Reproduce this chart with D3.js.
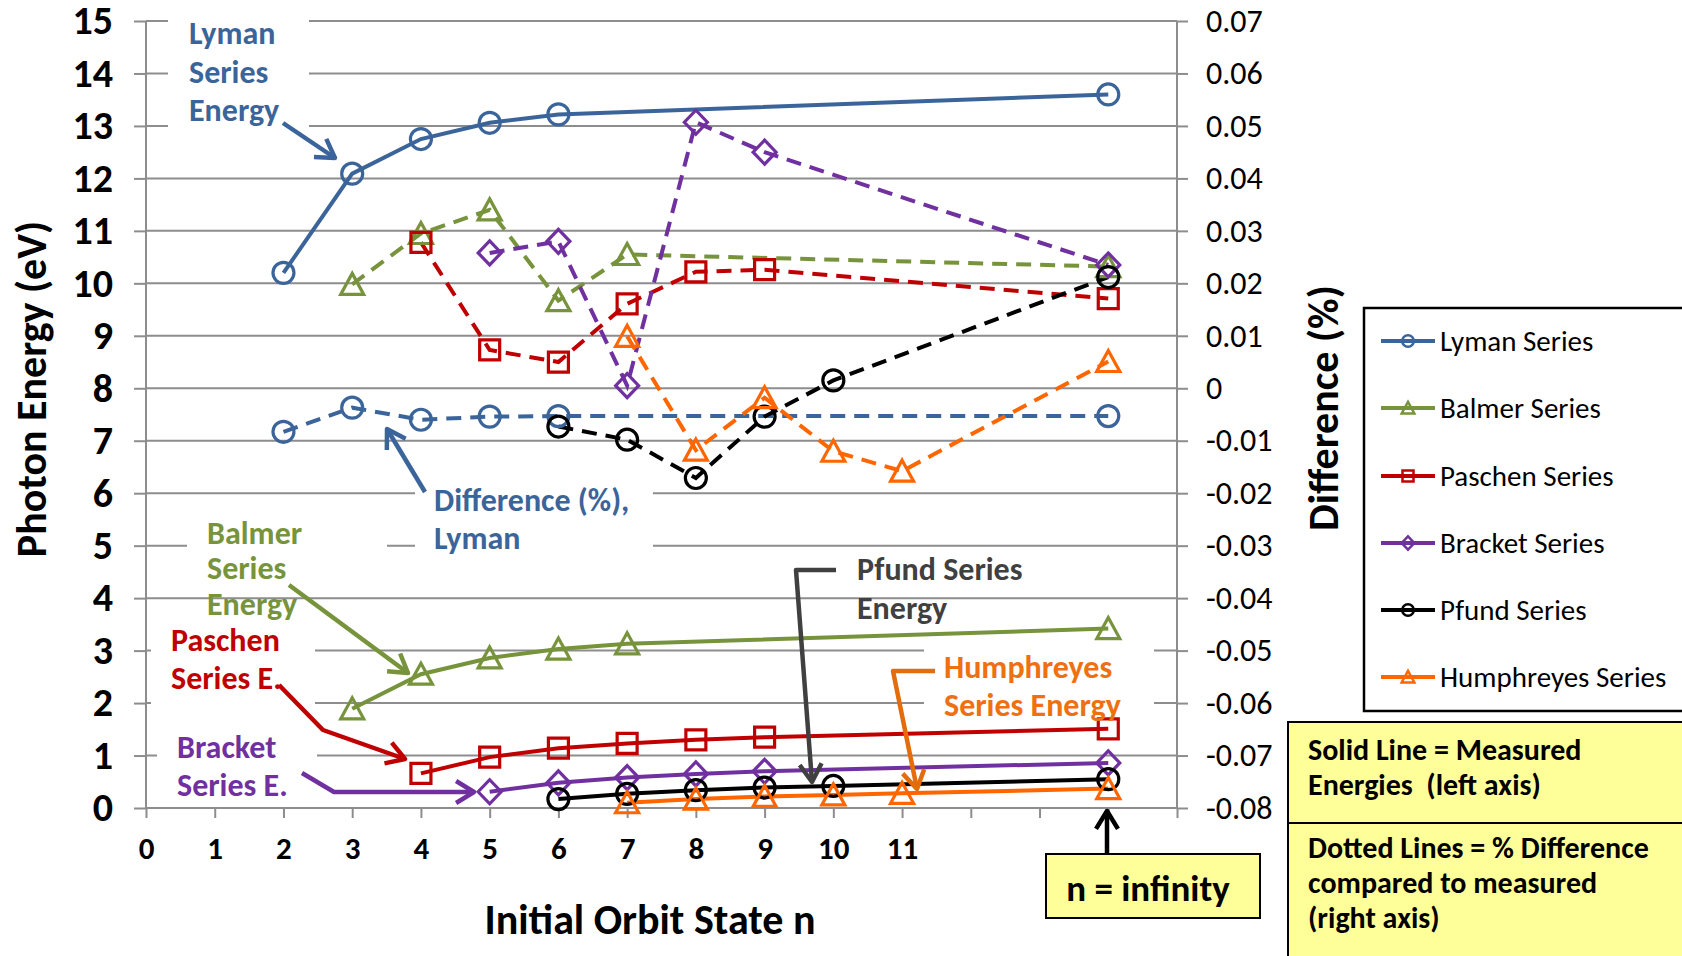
<!DOCTYPE html>
<html><head><meta charset="utf-8">
<script src="https://cdn.jsdelivr.net/npm/d3@7"></script>
<style>
html,body{margin:0;padding:0;background:#fff;overflow:hidden}
svg{display:block;font-family:Carlito,Lato,sans-serif}
</style></head><body>
<script>
// values (n = infinity is plotted at 14)
var xTicks = [0,1,2,3,4,5,6,7,8,9,10,11,12,13,14,15];
var xLabels = ["0","1","2","3","4","5","6","7","8","9","10","11"];
var leftTicks = [0,1,2,3,4,5,6,7,8,9,10,11,12,13,14,15];
var rightTicks = [0.07,0.06,0.05,0.04,0.03,0.02,0.01,0,-0.01,-0.02,-0.03,-0.04,-0.05,-0.06,-0.07,-0.08];

var seriesNames = ["Lyman Series","Balmer Series","Paschen Series","Bracket Series","Pfund Series","Humphreyes Series"];

var lymanN = [2,3,4,5,6,14];
var lymanEnergy = [10.20,12.09,12.75,13.06,13.22,13.60];
var lymanDiff = [-0.0083,-0.0037,-0.0060,-0.0054,-0.0053,-0.0053];

var balmerN = [3,4,5,6,7,14];
var balmerEnergy = [1.89,2.55,2.86,3.03,3.13,3.42];
var balmerDiff = [0.0198,0.0295,0.0340,0.0167,0.0255,0.0232];

var paschenN = [4,5,6,7,8,9,14];
var paschenEnergy = [0.66,0.97,1.14,1.23,1.30,1.35,1.51];
var paschenDiff = [0.0278,0.0073,0.0050,0.0161,0.0222,0.0226,0.0171];

var bracketN = [5,6,7,8,9,14];
var bracketEnergy = [0.31,0.48,0.58,0.65,0.70,0.86];
var bracketDiff = [0.0258,0.0280,0.0005,0.0507,0.0450,0.0235];

var pfundN = [6,7,8,9,10,14];
var pfundEnergy = [0.17,0.27,0.34,0.39,0.42,0.55];
var pfundDiff = [-0.0073,-0.0098,-0.0171,-0.0054,0.0015,0.0212];

var humphreysN = [7,8,9,10,11,14];
var humphreysEnergy = [0.10,0.17,0.22,0.25,0.28,0.37];
var humphreysDiff = [0.0099,-0.0118,-0.0018,-0.0120,-0.0158,0.0051];

window.onload = function(){
	var W = 1682, H = 956;
	var plotL = 146, plotR = 1177, plotT = 21, plotB = 808;
	var grid = "#8d8d8d";
	var svg = d3.select("body").append("svg").attr("width",W).attr("height",H);

	var x = d3.scaleLinear().domain([0,15]).range([plotL,plotR]);
	var yL = d3.scaleLinear().domain([0,15]).range([plotB,plotT]);
	var yR = d3.scaleLinear().domain([-0.08,0.07]).range([plotB,plotT]);

	var series = [
		{name:seriesNames[0],n:lymanN,e:lymanEnergy,d:lymanDiff,color:"#3b659a",shape:"circle"},
		{name:seriesNames[1],n:balmerN,e:balmerEnergy,d:balmerDiff,color:"#77933c",shape:"triangle"},
		{name:seriesNames[2],n:paschenN,e:paschenEnergy,d:paschenDiff,color:"#c00000",shape:"square"},
		{name:seriesNames[3],n:bracketN,e:bracketEnergy,d:bracketDiff,color:"#7030a0",shape:"diamond"},
		{name:seriesNames[4],n:pfundN,e:pfundEnergy,d:pfundDiff,color:"#000000",shape:"circle"},
		{name:seriesNames[5],n:humphreysN,e:humphreysEnergy,d:humphreysDiff,color:"#ff6600",shape:"triangle"}
	];

	function shapePath(shape,k){
		var p = d3.path();
		if(shape=="circle"){ p.arc(0,0,10.5*k,0,2*Math.PI); }
		else if(shape=="square"){ p.rect(-10*k,-10*k,20*k,20*k); }
		else if(shape=="diamond"){ p.moveTo(0,-12*k); p.lineTo(11.5*k,0); p.lineTo(0,12*k); p.lineTo(-11.5*k,0); p.closePath(); }
		else { p.moveTo(0,-11*k); p.lineTo(11.5*k,10*k); p.lineTo(-11.5*k,10*k); p.closePath(); }
		return p.toString();
	}

	// gridlines
	svg.append("g").selectAll("line").data(leftTicks).enter().append("line")
		.attr("x1",plotL).attr("x2",plotR)
		.attr("y1",function(d){return yL(d);}).attr("y2",function(d){return yL(d);})
		.attr("stroke",grid).attr("stroke-width",2);
	svg.append("line").attr("x1",plotL).attr("x2",plotL).attr("y1",plotT).attr("y2",plotB).attr("stroke",grid).attr("stroke-width",2);
	svg.append("line").attr("x1",plotR).attr("x2",plotR).attr("y1",plotT).attr("y2",plotB).attr("stroke",grid).attr("stroke-width",2);

	// axes
	function styleAxis(g,size,weight){
		g.select(".domain").remove();
		g.attr("font-family",null).attr("font-size",null);
		g.selectAll("line").attr("stroke",grid).attr("stroke-width",2);
		g.selectAll("text").attr("font-size",size).attr("font-weight",weight).attr("fill","#000");
	}
	var axL = svg.append("g").attr("transform","translate("+plotL+",0)")
		.call(d3.axisLeft(yL).tickValues(leftTicks).tickSize(12).tickPadding(21).tickFormat(d3.format("d")));
	styleAxis(axL,40,"bold");
	var axR = svg.append("g").attr("transform","translate("+plotR+",0)")
		.call(d3.axisRight(yR).tickValues(rightTicks).tickSize(11).tickPadding(18)
			.tickFormat(function(d){return Math.abs(d)<1e-9 ? "0" : d.toFixed(2);}));
	styleAxis(axR,32,"normal");
	var axB = svg.append("g").attr("transform","translate(0,"+plotB+")")
		.call(d3.axisBottom(x).tickValues(xTicks).tickSize(10).tickPadding(19)
			.tickFormat(function(d,i){return xLabels[i] || "";}));
	styleAxis(axB,31,"bold");

	// axis titles
	svg.append("text").attr("transform","translate(31,389) rotate(-90)").attr("text-anchor","middle")
		.attr("dy","0.35em").attr("font-size",42).attr("font-weight","bold").text("Photon Energy (eV)");
	svg.append("text").attr("transform","translate(1323,408) rotate(-90)").attr("text-anchor","middle")
		.attr("dy","0.35em").attr("font-size",42).attr("font-weight","bold").text("Difference (%)");
	svg.append("text").attr("x",650).attr("y",919).attr("text-anchor","middle")
		.attr("dy","0.35em").attr("font-size",42).attr("font-weight","bold").text("Initial Orbit State n");

	// white backgrounds of the text boxes
	var boxes = [[168,0,141,140],[415,472,238,90],[187,512,200,78],[151,620,164,96],[157,727,160,74],[924,640,230,78]];
	svg.append("g").selectAll("rect").data(boxes).enter().append("rect")
		.attr("x",function(d){return d[0];}).attr("y",function(d){return d[1];})
		.attr("width",function(d){return d[2];}).attr("height",function(d){return d[3];})
		.attr("fill","#fff");

	// lines
	var lineE = d3.line().x(function(d){return x(d[0]);}).y(function(d){return yL(d[1]);});
	var lineD = d3.line().x(function(d){return x(d[0]);}).y(function(d){return yR(d[1]);});
	series.forEach(function(s){
		var ptsE = s.n.map(function(n,i){return [n,s.e[i]];});
		var ptsD = s.n.map(function(n,i){return [n,s.d[i]];});
		s.ptsE = ptsE; s.ptsD = ptsD;
		svg.append("path").attr("d",lineD(ptsD)).attr("fill","none").attr("stroke",s.color)
			.attr("stroke-width",4).attr("stroke-dasharray","15,9");
		svg.append("path").attr("d",lineE(ptsE)).attr("fill","none").attr("stroke",s.color)
			.attr("stroke-width",4);
	});
	series.forEach(function(s){
		var g = svg.append("g");
		g.selectAll(".mE").data(s.ptsE).enter().append("path")
			.attr("transform",function(d){return "translate("+x(d[0])+","+yL(d[1])+")";})
			.attr("d",shapePath(s.shape,1)).attr("fill","none").attr("stroke",s.color).attr("stroke-width",3.2);
		g.selectAll(".mD").data(s.ptsD).enter().append("path")
			.attr("transform",function(d){return "translate("+x(d[0])+","+yR(d[1])+")";})
			.attr("d",shapePath(s.shape,1)).attr("fill","none").attr("stroke",s.color).attr("stroke-width",3.2);
	});

	// legend
	svg.append("rect").attr("x",1364).attr("y",308).attr("width",340).attr("height",403)
		.attr("fill","#fff").attr("stroke","#000").attr("stroke-width",2.5);
	var legRows = [341,408,476,543,610,677];
	series.forEach(function(s,i){
		var yy = legRows[i];
		svg.append("line").attr("x1",1381).attr("x2",1435).attr("y1",yy).attr("y2",yy)
			.attr("stroke",s.color).attr("stroke-width",4);
		svg.append("path").attr("transform","translate(1408,"+yy+")").attr("d",shapePath(s.shape,0.55))
			.attr("fill","none").attr("stroke",s.color).attr("stroke-width",2.5);
		svg.append("text").attr("x",1440).attr("y",yy).attr("dy","0.35em").attr("font-size",29).text(s.name);
	});

	// annotations
	var notes = [
		{lines:["Lyman","Series","Energy"],x:189,y:[33,72,110],color:"#3b659a"},
		{lines:["Difference (%),","Lyman"],x:434,y:[500,538],color:"#3b659a"},
		{lines:["Balmer","Series","Energy"],x:207,y:[533,568,604],color:"#77933c"},
		{lines:["Paschen","Series E."],x:171,y:[640,678],color:"#c00000"},
		{lines:["Bracket","Series E."],x:177,y:[747,785],color:"#7030a0"},
		{lines:["Pfund Series","Energy"],x:857,y:[569,608],color:"#404040"},
		{lines:["Humphreyes","Series Energy"],x:944,y:[667,705],color:"#ee7010"}
	];
	notes.forEach(function(nt){
		nt.lines.forEach(function(t,i){
			svg.append("text").attr("x",nt.x).attr("y",nt.y[i]).attr("dy","0.35em")
				.attr("font-size",32).attr("font-weight","bold").attr("fill",nt.color).text(t);
		});
	});

	function arrow(pts,color,w){
		svg.append("path").attr("d",d3.line()(pts)).attr("fill","none").attr("stroke",color)
			.attr("stroke-width",w).attr("stroke-linejoin","round");
		var a = pts[pts.length-2], b = pts[pts.length-1];
		var ang = Math.atan2(b[1]-a[1],b[0]-a[0]), L = 21, s = 0.55;
		var p1 = [b[0]-L*Math.cos(ang-s), b[1]-L*Math.sin(ang-s)];
		var p2 = [b[0]-L*Math.cos(ang+s), b[1]-L*Math.sin(ang+s)];
		svg.append("path").attr("d",d3.line()([p1,b,p2])).attr("fill","none").attr("stroke",color)
			.attr("stroke-width",w).attr("stroke-linejoin","round");
	}
	arrow([[283,123],[335,158]],"#3b659a",4.5);
	arrow([[425,492],[387,429]],"#3b659a",4.5);
	arrow([[289,585],[408,673]],"#77933c",4.5);
	arrow([[279,685],[323,730],[405,759]],"#c00000",4.5);
	arrow([[302,773],[334,792],[474,792]],"#7030a0",4.5);
	arrow([[836,570],[796,570],[812,782]],"#404040",4.5);
	arrow([[935,671],[893,671],[917,789]],"#e46c0a",4.5);
	arrow([[1107,853],[1107,811]],"#000",4.5);

	// yellow note boxes
	svg.append("rect").attr("x",1046).attr("y",854).attr("width",214).attr("height",64)
		.attr("fill","#ffff99").attr("stroke","#000").attr("stroke-width",2);
	svg.append("text").attr("x",1148).attr("y",901).attr("text-anchor","middle")
		.attr("font-size",37).attr("font-weight","bold").text("n = infinity");

	svg.append("rect").attr("x",1288).attr("y",722).attr("width",420).attr("height",101)
		.attr("fill","#ffff99").attr("stroke","#000").attr("stroke-width",2);
	svg.append("rect").attr("x",1288).attr("y",823).attr("width",420).attr("height",160)
		.attr("fill","#ffff99").attr("stroke","#000").attr("stroke-width",2);
	var noteLines = [["Solid Line = Measured",760],["Energies  (left axis)",795],
		["Dotted Lines = % Difference",858],["compared to measured",893],["(right axis)",928]];
	noteLines.forEach(function(t){
		svg.append("text").attr("x",1308).attr("y",t[1]).attr("font-size",30).attr("font-weight","bold")
			.attr("xml:space","preserve").style("white-space","pre").text(t[0]);
	});
};
</script>
</body></html>
